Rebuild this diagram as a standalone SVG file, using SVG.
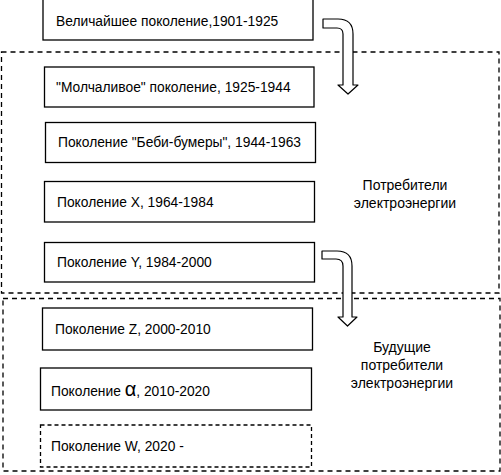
<svg xmlns="http://www.w3.org/2000/svg" width="501" height="475" viewBox="0 0 501 475">
<style>
.box{fill:#fff;stroke:#000;stroke-width:1.3}
.dbox{fill:#fff;stroke:#000;stroke-width:1.3;stroke-dasharray:4 3}
.cont{fill:none;stroke:#000;stroke-width:1.3;stroke-dasharray:5 4}
.t{font-family:"Liberation Sans",Arial,sans-serif;font-size:13.8px;fill:#000}
.lbl{font-family:"Liberation Sans",Arial,sans-serif;font-size:14px;fill:#000;text-anchor:middle}
.arr{fill:#fff;stroke:#000;stroke-width:1.2;stroke-linejoin:round}
</style>
<rect width="501" height="475" fill="#fff"/>
<g id="group-consumers">
<rect class="cont" x="1.5" y="52" width="497.5" height="241"/>
<text class="lbl" x="405" y="190">Потребители</text>
<text class="lbl" x="405" y="208">электроэнергии</text>
</g>
<g id="group-future">
<rect class="cont" x="3" y="298.5" width="497" height="172.5"/>
<text class="lbl" x="402" y="352">Будущие</text>
<text class="lbl" x="402" y="370">потребители</text>
<text class="lbl" x="402" y="388">электроэнергии</text>
</g>
<g id="gen-greatest">
<rect class="box" x="43" y="-1" width="270" height="41"/>
<text class="t" x="56" y="26">Величайшее поколение,1901-1925</text>
</g>
<g id="gen-silent">
<rect class="box" x="44.5" y="67" width="269.5" height="40"/>
<text class="t" x="56" y="92">"Молчаливое" поколение, 1925-1944</text>
</g>
<g id="gen-boomers">
<rect class="box" x="45.5" y="122.5" width="270" height="40"/>
<text class="t" x="58" y="147">Поколение "Беби-бумеры", 1944-1963</text>
</g>
<g id="gen-x">
<rect class="box" x="44.5" y="181.5" width="270" height="40.5"/>
<text class="t" x="57" y="207">Поколение X, 1964-1984</text>
</g>
<g id="gen-y">
<rect class="box" x="44.5" y="242.5" width="270" height="39.5"/>
<text class="t" x="57" y="267">Поколение Y, 1984-2000</text>
</g>
<g id="gen-z">
<rect class="box" x="42.5" y="308" width="270" height="42"/>
<text class="t" x="55" y="334">Поколение Z, 2000-2010</text>
</g>
<g id="gen-alpha">
<rect class="box" x="40.5" y="368" width="271" height="42"/>
<text class="t" x="51" y="396">Поколение <tspan font-size="20">α</tspan>, 2010-2020</text>
</g>
<g id="gen-w">
<rect class="dbox" x="40.5" y="425" width="271" height="42"/>
<text class="t" x="51" y="451">Поколение W, 2020 -</text>
</g>
<g id="connectors">
<path class="arr" d="M323,19 L338,19 Q353,19 353,34 L353,85 L358,85 L348,94 L338,85 L343,85 L343,34 Q343,28 337,28 L323,28 Z"/>
<path class="arr" d="M322,251 L337,251 Q352,251 352,266 L352,317 L357,317 L347.5,326 L338,317 L343,317 L343,266 Q343,259 336,259 L322,259 Z"/>
</g>
</svg>
